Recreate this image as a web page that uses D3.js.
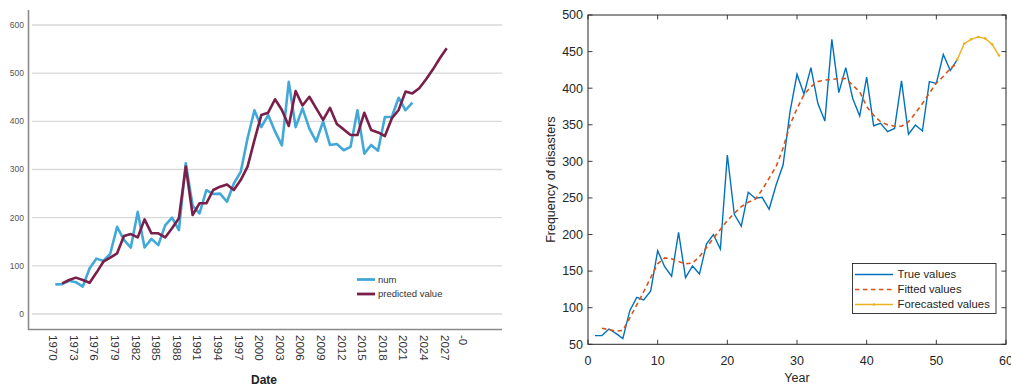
<!DOCTYPE html>
<html>
<head>
<meta charset="utf-8">
<script src="https://cdn.jsdelivr.net/npm/d3@7/dist/d3.min.js"></script>
<style>
  html, body { margin: 0; padding: 0; background: #ffffff; }
  svg { display: block; }
</style>
</head>
<body>
<svg id="chart" width="1011" height="387"></svg>
<script>
// ---------------- Left chart data (SPSS style) ----------------
const numYears = [1970,1971,1972,1973,1974,1975,1976,1977,1978,1979,1980,1981,1982,1983,1984,1985,1986,1987,1988,1989,
  1990,1991,1992,1993,1994,1995,1996,1997,1998,1999,2000,2001,2002,2003,2004,2005,2006,2007,2008,2009,
  2010,2011,2012,2013,2014,2015,2016,2017,2018,2019,2020,2021,2022];
const numValues = [61.6,62,69,66,57,95,115,110,125,181,154,138,212,138,156,143,184,200,174,313,
  225,209,257,249,250,233,271,295,365,423,388,413,379,350,482,388,427,385,358,400,
  351,353,340,347,423,333,351,339,409,409,449,423,439];
const predYears = [1971,1972,1973,1974,1975,1976,1977,1978,1979,1980,1981,1982,1983,1984,1985,1986,1987,1988,1989,
  1990,1991,1992,1993,1994,1995,1996,1997,1998,1999,2000,2001,2002,2003,2004,2005,2006,2007,2008,2009,
  2010,2011,2012,2013,2014,2015,2016,2017,2018,2019,2020,2021,2022,2023,2024,2025,2026,2027];
const predValues = [63.7,70.5,75.5,70.5,65,86,108.6,117,126,162,166,159,196.5,167.5,167.5,159,178,199,306,
  205.5,229.8,229.8,257.4,264.4,269,257.4,278,306,361,413,418,445.8,423.6,390.3,462.8,433,451,427,403,
  428,394.4,383.3,371.5,371.5,417.9,382,377,369.5,406,423.6,461.7,458,468.8,487.5,508,531,551.6];
const leftYTicks = [0,100,200,300,400,500,600];
const leftXTickPos = [1970,1973,1976,1979,1982,1985,1988,1991,1994,1997,2000,2003,2006,2009,2012,2015,2018,2021,2024,2027,2029.6];
const leftXTickLabels = ["1970","1973","1976","1979","1982","1985","1988","1991","1994","1997","2000","2003","2006","2009","2012","2015","2018","2021","2024","2027","-0"];
const leftSeriesNames = ["num","predicted value"];

// ---------------- Right chart data (MATLAB style) ----------------
const trueX = [1,2,3,4,5,6,7,8,9,10,11,12,13,14,15,16,17,18,19,20,21,22,23,24,25,26,27,28,29,30,
  31,32,33,34,35,36,37,38,39,40,41,42,43,44,45,46,47,48,49,50,51,52,53];
const trueValues = [61.8,62,70.9,65,57.7,96,114,110.5,123,178,156,143,203,141,157,146,187,200,180,308.7,
  227.6,211.6,257.7,249.5,250.9,234.5,267.7,295,368,419,392,428,379,355,466.8,394,428,386,362,415,
  348.7,352,340.5,345,410,337,349.7,341.5,409,406.6,446,424,439];
const fittedX = [2,3,4,5,6,7,8,9,10,11,12,13,14,15,16,17,18,19,20,21,22,23,24,25,26,27,28,29,30,
  31,32,33,34,35,36,37,38,39,40,41,42,43,44,45,46,47,48,49,50,51,52,53];
const fittedValues = [72,70,68,69,86,104,122,141,160,168,167,163,160,161,170,182,195,207,219,229,238,244,248,261,277,293,318,350,372,
  391,402,409,411,412,413,413,404,395,375,363,354,350,348,348,354,366,379,393,407,416,427,434];
const forecastX = [53,54,55,56,57,58,59];
const forecastValues = [439,460.8,466.8,470,468,460,444.6];
const rightXTicks = [0,10,20,30,40,50,60];
const rightYTicks = [50,100,150,200,250,300,350,400,450,500];
const rightSeriesNames = ["True values","Fitted values","Forecasted values"];

const svg = d3.select("#chart");

// ================= LEFT CHART =================
(function(){
  const g = svg.append("g");
  const x = d3.scaleLinear().domain([1970, 2027]).range([55.3, 446.7]);
  const y = d3.scaleLinear().domain([0, 600]).range([314, 25]);
  const cBlue = "#42a8d8", cMaroon = "#7a1f4a";

  g.selectAll("line.grid").data(leftYTicks).enter().append("line")
    .attr("x1", 32).attr("x2", 502)
    .attr("y1", d => y(d)).attr("y2", d => y(d))
    .attr("stroke", "#d9d9d9").attr("stroke-width", 1.3);

  g.append("line").attr("x1", 28.5).attr("x2", 28.5).attr("y1", 10).attr("y2", 330)
    .attr("stroke", "#8a8a8a").attr("stroke-width", 1.6);
  g.append("line").attr("x1", 28).attr("x2", 502).attr("y1", 329.5).attr("y2", 329.5)
    .attr("stroke", "#8a8a8a").attr("stroke-width", 1.6);

  g.selectAll("text.yl").data(leftYTicks).enter().append("text")
    .attr("x", 24).attr("y", d => y(d)).attr("dy", "0.35em")
    .attr("text-anchor", "end")
    .attr("font-family", "Liberation Sans, Arial, sans-serif")
    .attr("font-size", 8.5).attr("fill", "#555")
    .text(d => d);

  g.selectAll("text.xl").data(leftXTickPos).enter().append("text")
    .attr("transform", d => `translate(${x(d) - 2},335) rotate(90)`)
    .attr("dy", "0.35em")
    .attr("text-anchor", "start")
    .attr("font-family", "Liberation Sans, Arial, sans-serif")
    .attr("font-size", 11.5).attr("fill", "#333")
    .text((d, i) => leftXTickLabels[i]);

  g.append("text").attr("x", 264).attr("y", 384).attr("text-anchor", "middle")
    .attr("font-family", "Liberation Sans, Arial, sans-serif")
    .attr("font-size", 12).attr("font-weight", "bold").attr("fill", "#222")
    .text("Date");

  const line = d3.line().x(d => x(d[0])).y(d => y(d[1]));
  g.append("path").datum(numYears.map((yr, i) => [yr, numValues[i]]))
    .attr("d", line).attr("fill", "none").attr("stroke", cBlue)
    .attr("stroke-width", 2.6).attr("stroke-linejoin", "round");
  g.append("path").datum(predYears.map((yr, i) => [yr, predValues[i]]))
    .attr("d", line).attr("fill", "none").attr("stroke", cMaroon)
    .attr("stroke-width", 2.6).attr("stroke-linejoin", "round");

  const lg = g.append("g");
  [cBlue, cMaroon].forEach((c, i) => {
    const yy = 279.5 + i * 14.5;
    lg.append("line").attr("x1", 357).attr("x2", 375).attr("y1", yy).attr("y2", yy)
      .attr("stroke", c).attr("stroke-width", 2.8);
    lg.append("text").attr("x", 378).attr("y", yy).attr("dy", "0.35em")
      .attr("font-family", "Liberation Sans, Arial, sans-serif")
      .attr("font-size", 9.5).attr("fill", "#333")
      .text(leftSeriesNames[i]);
  });
})();

// ================= RIGHT CHART =================
(function(){
  const g = svg.append("g");
  const L = 588, R = 1006, T = 15, B = 344.3;
  const x = d3.scaleLinear().domain([0, 60]).range([L, R]);
  const y = d3.scaleLinear().domain([50, 500]).range([B, T]);
  const font = "Liberation Sans, Arial, Helvetica, sans-serif";
  const axisColor = "#262626";
  const cTrue = "#0072BD", cFit = "#D95319", cFc = "#EDB120";
  const tl = 4.5;

  rightXTicks.forEach(t => {
    g.append("line").attr("x1", x(t)).attr("x2", x(t)).attr("y1", B).attr("y2", B - tl)
      .attr("stroke", axisColor).attr("stroke-width", 0.9);
    g.append("line").attr("x1", x(t)).attr("x2", x(t)).attr("y1", T).attr("y2", T + tl)
      .attr("stroke", axisColor).attr("stroke-width", 0.9);
  });
  rightYTicks.forEach(t => {
    g.append("line").attr("x1", L).attr("x2", L + tl).attr("y1", y(t)).attr("y2", y(t))
      .attr("stroke", axisColor).attr("stroke-width", 0.9);
    g.append("line").attr("x1", R).attr("x2", R - tl).attr("y1", y(t)).attr("y2", y(t))
      .attr("stroke", axisColor).attr("stroke-width", 0.9);
  });

  g.selectAll("text.xr").data(rightXTicks).enter().append("text")
    .attr("x", d => x(d)).attr("y", B + 16).attr("dy", "0.35em")
    .attr("text-anchor", "middle").attr("font-family", font)
    .attr("font-size", 12.5).attr("fill", axisColor).text(d => d);
  g.selectAll("text.yr").data(rightYTicks).enter().append("text")
    .attr("x", L - 5).attr("y", d => y(d)).attr("dy", "0.35em")
    .attr("text-anchor", "end").attr("font-family", font)
    .attr("font-size", 12.5).attr("fill", axisColor).text(d => d);

  g.append("text").attr("transform", `translate(551,${(T + B) / 2}) rotate(-90)`)
    .attr("text-anchor", "middle").attr("dy", "0.35em").attr("font-family", font)
    .attr("font-size", 12.5).attr("fill", axisColor).text("Frequency of disasters");
  g.append("text").attr("x", (L + R) / 2).attr("y", 378).attr("dy", "0.35em")
    .attr("text-anchor", "middle").attr("font-family", font)
    .attr("font-size", 12.5).attr("fill", axisColor).text("Year");

  const line = d3.line().x(d => x(d[0])).y(d => y(d[1]));
  g.append("path").datum(trueX.map((t, i) => [t, trueValues[i]]))
    .attr("d", line).attr("fill", "none").attr("stroke", cTrue).attr("stroke-width", 1.4);
  g.append("path").datum(fittedX.map((t, i) => [t, fittedValues[i]]))
    .attr("d", line).attr("fill", "none").attr("stroke", cFit).attr("stroke-width", 1.6)
    .attr("stroke-dasharray", "4.5,3.5");
  const fc = forecastX.map((t, i) => [t, forecastValues[i]]);
  g.append("path").datum(fc)
    .attr("d", line).attr("fill", "none").attr("stroke", cFc).attr("stroke-width", 1.4);
  g.selectAll("circle.fc").data(fc).enter().append("circle")
    .attr("cx", d => x(d[0])).attr("cy", d => y(d[1])).attr("r", 1.3).attr("fill", cFc);

  g.append("rect").attr("x", L).attr("y", T).attr("width", R - L).attr("height", B - T)
    .attr("fill", "none").attr("stroke", axisColor).attr("stroke-width", 1);

  const lg = g.append("g");
  lg.append("rect").attr("x", 852.5).attr("y", 263.5).attr("width", 143.5).attr("height", 50)
    .attr("fill", "#fff").attr("stroke", axisColor).attr("stroke-width", 0.9);
  const colors = [cTrue, cFit, cFc];
  colors.forEach((c, i) => {
    const yy = 274.5 + i * 15;
    const ln = lg.append("line").attr("x1", 855).attr("x2", 893).attr("y1", yy).attr("y2", yy)
      .attr("stroke", c).attr("stroke-width", i === 1 ? 1.6 : 1.4);
    if (i === 1) ln.attr("stroke-dasharray", "4.5,3.5");
    if (i === 2) lg.append("circle").attr("cx", 874).attr("cy", yy).attr("r", 1.3).attr("fill", c);
    lg.append("text").attr("x", 897.5).attr("y", yy).attr("dy", "0.35em")
      .attr("font-family", font).attr("font-size", 11.3).attr("fill", axisColor)
      .text(rightSeriesNames[i]);
  });
})();
</script>
</body>
</html>
